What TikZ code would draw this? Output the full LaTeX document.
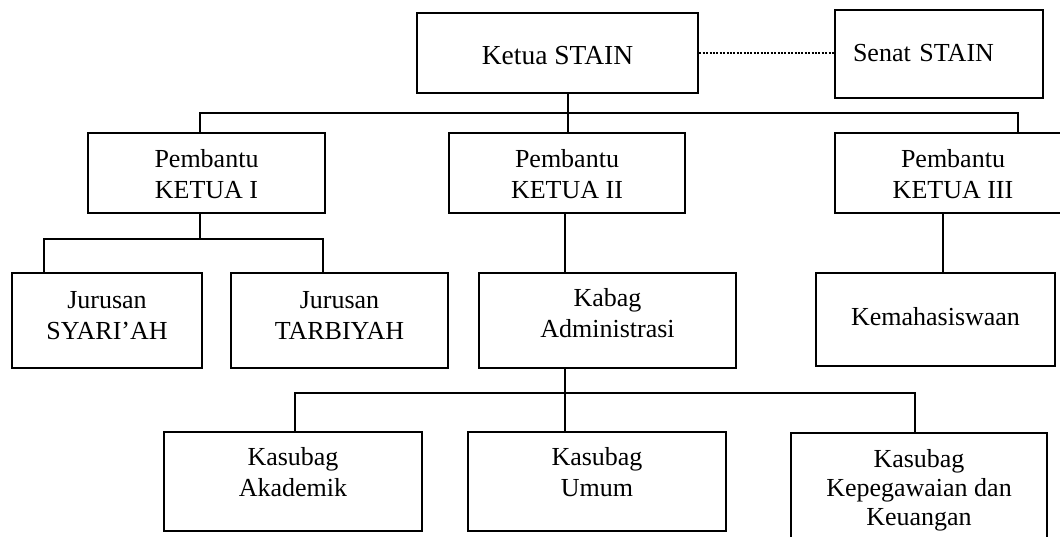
\documentclass[tikz,border=0pt]{standalone}
\usepackage{fontspec}
\setmainfont{Liberation Serif}
\begin{document}
\begin{tikzpicture}[x=1pt,y=-1pt,
  obox/.style={draw=black, line width=2.6pt, inner sep=0pt, rectangle},
  otxt/.style={inner sep=0pt, align=center, font=\fontsize{26}{31}\selectfont},
  link/.style={draw=black, line width=2.6pt},
  dotlink/.style={draw=black, line width=2.6pt, dash pattern=on 2pt off 1.4pt}]
\useasboundingbox (0,0) rectangle (1060,536);
\clip (0,0) rectangle (1060,536);
% boxes
\node[obox, minimum width=281pt, minimum height=80pt] (ketua) at (557.5,53) {};
\node[obox, minimum width=208pt, minimum height=88pt] (senat) at (939,54) {};
\node[obox, minimum width=237pt, minimum height=80pt] (pk1) at (206.5,173) {};
\node[obox, minimum width=236pt, minimum height=80pt] (pk2) at (567,173) {};
\node[obox, minimum width=236pt, minimum height=80pt] (pk3) at (953,173) {};
\node[obox, minimum width=190pt, minimum height=95pt] (syariah) at (107,320.5) {};
\node[obox, minimum width=217pt, minimum height=95pt] (tarbiyah) at (339.5,320.5) {};
\node[obox, minimum width=257pt, minimum height=95pt] (kabag) at (607.5,320.5) {};
\node[obox, minimum width=239pt, minimum height=93pt] (kema) at (935.5,319.5) {};
\node[obox, minimum width=258pt, minimum height=99pt] (akad) at (293,481.5) {};
\node[obox, minimum width=258pt, minimum height=99pt] (umum) at (597,481.5) {};
\node[obox, minimum width=256pt, minimum height=130pt] (kepeg) at (919,498) {};
% texts
\node[otxt, font=\fontsize{27.5}{33}\selectfont] (ketuaT) at (557.5,56) {Ketua STAIN};
\node[otxt, text width=172pt, align=left] (senatT) at (939,53.5) {Senat STAIN};
\node[otxt] (pk1T) at (206.5,174) {Pembantu\\KETUA I};
\node[otxt] (pk2T) at (567,174) {Pembantu\\KETUA II};
\node[otxt] (pk3T) at (953,174) {Pembantu\\KETUA III};
\node[otxt] (syariahT) at (107,315.5) {Jurusan\\SYARI’AH};
\node[otxt] (tarbiyahT) at (339.5,315.5) {Jurusan\\TARBIYAH};
\node[otxt] (kabagT) at (607.5,313) {Kabag\\Administrasi};
\node[otxt] (kemaT) at (935.5,317) {Kemahasiswaan};
\node[otxt] (akadT) at (293,472.5) {Kasubag\\Akademik};
\node[otxt] (umumT) at (597,472.5) {Kasubag\\Umum};
\node[otxt, font=\fontsize{26}{29}\selectfont] (kepegT) at (919,490) {Kasubag\\Kepegawaian dan\\Keuangan};
% junction points
\coordinate (t0) at (568,113);
\coordinate (tL) at (200,113);
\coordinate (tR) at (1018,113);
\coordinate (s1) at (200,239);
\coordinate (s1L) at (44,239);
\coordinate (s1R) at (323,239);
\coordinate (kx) at (565,0);
\coordinate (mx) at (943,0);
\coordinate (b0) at (565,393);
\coordinate (bL) at (295,393);
\coordinate (bR) at (915,393);
% connectors
\draw[dotlink] (ketua.east) -- (senat.west |- ketua.east);
\draw[link] (ketua.south -| t0) -- (t0);
\draw[link] (pk1.north -| tL) -- (tL) -- (tR) -- (pk3.north -| tR);
\draw[link] (t0) -- (pk2.north -| t0);
\draw[link] (pk1.south -| s1) -- (s1);
\draw[link] (syariah.north -| s1L) -- (s1L) -- (s1R) -- (tarbiyah.north -| s1R);
\draw[link] (pk2.south -| kx) -- (kabag.north -| kx);
\draw[link] (pk3.south -| mx) -- (kema.north -| mx);
\draw[link] (kabag.south -| b0) -- (umum.north -| b0);
\draw[link] (akad.north -| bL) -- (bL) -- (bR) -- (kepeg.north -| bR);
\end{tikzpicture}
\end{document}
